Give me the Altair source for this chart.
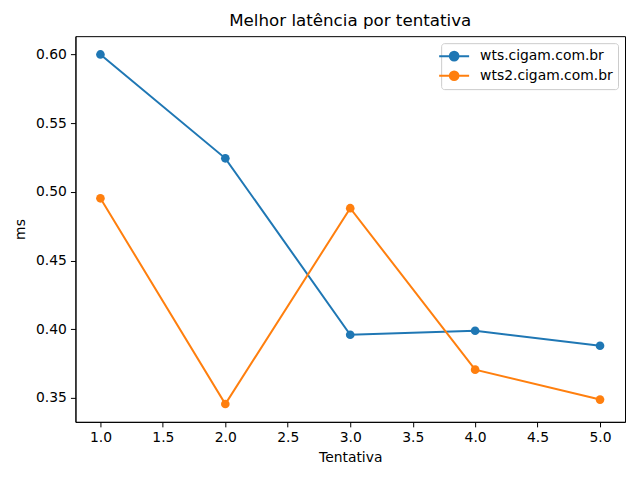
import altair as alt
import pandas as pd

tentativas = [1.0, 2.0, 3.0, 4.0, 5.0]
wts = [0.600, 0.5244, 0.3960, 0.3989, 0.3880]
wts2 = [0.4953, 0.3456, 0.4881, 0.3706, 0.3488]
series = ["wts.cigam.com.br", "wts2.cigam.com.br"]
colors = ["#1f77b4", "#ff7f0e"]
x_ticks = [1.0, 1.5, 2.0, 2.5, 3.0, 3.5, 4.0, 4.5, 5.0]
y_ticks = [0.35, 0.40, 0.45, 0.50, 0.55, 0.60]

rows = []
for name, vals in zip(series, [wts, wts2]):
    for t, v in zip(tentativas, vals):
        rows.append({"Tentativa": t, "ms": v, "host": name})
df = pd.DataFrame(rows)

FONT = "DejaVu Sans"
sym = "M -2.85 0 M -2.14 0 L 2.14 0 M 0.62 0 A 0.62 0.62 0 1 1 -0.62 0 A 0.62 0.62 0 1 1 0.62 0 Z"

color = alt.Color(
    "host:N",
    scale=alt.Scale(domain=series, range=colors),
    legend=alt.Legend(
        title=None,
        orient="top-right",
        offset=7,
        fillColor="white",
        strokeColor="#cccccc",
        cornerRadius=3,
        padding=5,
        symbolType=sym,
        symbolSize=196,
        symbolStrokeWidth=2,
        labelFont=FONT,
        labelFontSize=13.9,
        labelColor="black",
        labelOffset=18,
        rowPadding=1.6,
    ),
)

x = alt.X(
    "Tentativa:Q",
    scale=alt.Scale(domain=[0.8, 5.2], nice=False, zero=False),
    axis=alt.Axis(values=x_ticks, format=".1f", grid=False, title="Tentativa",
                  titlePadding=6),
)
y = alt.Y(
    "ms:Q",
    scale=alt.Scale(domain=[0.3326, 0.6133], nice=False, zero=False),
    axis=alt.Axis(values=y_ticks, format=".2f", grid=False, title="ms",
                  titlePadding=8),
)

line = alt.Chart(df).mark_line(strokeWidth=2).encode(x=x, y=y, color=color)
pts = alt.Chart(df).mark_point(filled=True, size=75, opacity=1, shape="circle").encode(
    x=x, y=y, color=alt.Color("host:N", scale=alt.Scale(domain=series, range=colors), legend=None)
)

chart = (
    alt.layer(line, pts)
    .properties(
        width=550,
        height=386,
        title=alt.TitleParams("Melhor latência por tentativa", font=FONT, fontSize=16.7,
                              fontWeight="normal", color="black", offset=6),
        autosize=alt.AutoSizeParams(type="none"),
        padding={"left": 67.5, "top": 28, "right": 7, "bottom": 50},
    )
    .configure_view(stroke="black", strokeWidth=1)
    .configure_axis(
        domainColor="black",
        tickColor="black",
        tickSize=5,
        labelFont=FONT,
        labelFontSize=13.9,
        labelColor="black",
        labelPadding=4,
        titleFont=FONT,
        titleFontSize=13.9,
        titleFontWeight="normal",
        titleColor="black",
    )
)

chart.save("out.html", embed_options={"renderer": "svg", "actions": False})
